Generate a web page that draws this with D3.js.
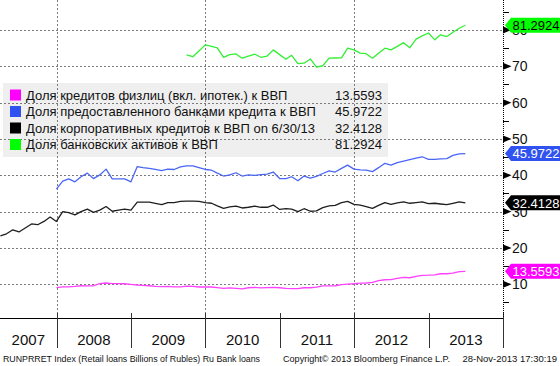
<!DOCTYPE html>
<html>
<head>
<meta charset="utf-8">
<script src="https://cdn.jsdelivr.net/npm/d3@7"></script>
<style>
  html, body { margin: 0; padding: 0; background: #ffffff; }
  svg { display: block; }
  text { font-family: "Liberation Sans", Arial, sans-serif; }
</style>
</head>
<body>
<svg id="chart" width="560" height="366"></svg>
<script>
// ---------------- DATA ----------------
const seriesNames = [
  "Доля кредитов физлиц (вкл. ипотек.) к ВВП",
  "Доля предоставленного банками кредита к ВВП",
  "Доля корпоративных кредитов к ВВП on 6/30/13",
  "Доля банковских активов к ВВП"
];
const lastValues = ["13.5593", "45.9722", "32.4128", "81.2924"];
const seriesColors = ["#ff00ff", "#2f52f0", "#000000", "#00ff00"];
const lineColors = ["#ff40ff", "#4a66f5", "#1e1e1e", "#33ef33"];
const labelTextColors = ["#ffffff", "#ffffff", "#ffffff", "#000000"];

// first month-end date of each series (year, month index 0-11)
const retailStart = [2007, 11];     // 2007-12-31
const bankCreditStart = [2007, 11]; // 2007-12-31
const corporateStart = [2007, 2];   // 2007-03-31
const assetsStart = [2009, 8];      // 2009-09-30

// monthly values, % of GDP
const retailLoans = [
  9.1, 9.3, 9.3, 9.4, 9.6, 9.55, 9.6, 10.2, 10.35, 10.2, 10.2, 10.15,
  9.95, 9.8, 9.7, 9.6, 9.4, 9.35, 9.4, 9.3, 9.3, 9.5, 9.4, 9.25,
  9.25, 9.25, 9.1, 8.85, 9.0, 8.9, 8.75, 9.05, 9.15, 9.0, 9.1, 9.15,
  9.05, 8.9, 8.8, 8.8, 9.05, 9.05, 9.2, 9.55, 9.55, 9.6, 9.9, 10.05,
  10.15, 10.3, 10.35, 10.5, 11.0, 11.25, 11.3, 11.6, 11.9, 11.8, 12.2, 12.45,
  12.5, 12.6, 12.9, 12.9, 13.1, 13.5, 13.5593
];
const bankCredit = [
  36.2, 38.4, 39.0, 38.2, 39.6, 40.6, 39.1, 40.1, 41.7, 39.0, 39.0, 39.0, 38.2, 42.4, 42.1, 41.9, 41.6, 41.3,
  41.7, 41.6, 42.3, 42.6, 42.6, 42.1, 41.6, 41.4, 40.6, 39.8, 40.1, 40.7, 39.8, 40.1, 40.0, 40.2, 40.3, 40.9,
  39.1, 39.1, 39.6, 38.5, 39.8, 39.2, 39.7,
  40.5, 41.2, 40.9, 41.9, 42.8, 41.7, 41.5, 41.4, 41.0, 42.1, 43.3, 42.8, 43.5, 43.9, 44.3, 44.7, 45.1, 44.4,
  44.4, 44.5, 44.6, 45.5, 45.9, 45.9722
];
const corporateLoans = [
  23.3, 23.9, 25.0, 24.4, 25.5, 26.6, 26.4, 27.3, 28.5,
  27.3, 30.0, 29.7, 29.1, 30.0, 30.7, 29.8, 30.4, 31.4, 30.1, 30.4, 30.7, 30.4, 32.6, 32.6, 32.6, 32.3,
  31.9, 32.5, 32.5, 32.8, 32.9, 32.9, 32.8, 32.5, 32.3, 31.6, 30.9, 31.3, 31.5, 31.0, 31.2, 31.5, 31.2, 31.2,
  31.8, 30.6, 30.8, 30.7, 30.0, 30.8, 30.1, 30.2,
  31.1, 31.6, 31.7, 32.5, 32.8, 32.0, 31.8, 31.4, 30.9, 31.7, 32.5, 32.0, 32.4, 32.7, 32.3, 32.5, 32.7, 32.2,
  32.3, 32.1, 31.9, 32.3, 32.7, 32.4128
];
const bankAssets = [
  73.13, 72.63, 74.22, 75.9, 75.5, 75.1, 72.48, 73.22, 73.41, 72.23, 72.83, 73.32, 72.48, 72.83, 74.52, 73.22,
  71.94, 73.03, 70.75, 70.85, 72.03, 69.76, 70.15, 72.23, 72.28, 72.33, 75.0, 74.52, 73.62, 73.47, 72.23, 73.62,
  75.0, 74.52, 75.5, 76.5, 75.1, 77.49, 78.38, 79.17, 77.29, 78.68, 78.18, 79.37, 80.47, 81.2924
];

const yTicks = [10, 20, 30, 40, 50, 60, 70, 80];
const yMinorTicks = [5, 15, 25, 35, 45, 55, 65, 75, 85];
const yearLabels = ["2007", "2008", "2009", "2010", "2011", "2012", "2013"];
const gridYears = [2008, 2010, 2012];
const footerLeft = "RUNPRRET Index (Retail loans Billions of Rubles) Ru Bank loans";
const footerMid = "Copyright\u00A9 2013 Bloomberg Finance L.P.";
const footerRight = "28-Nov-2013 17:30:19";

// ---------------- HELPERS ----------------
function monthEnds(start, n) {
  const out = [];
  for (let i = 0; i < n; i++) out.push(new Date(Date.UTC(start[0], start[1] + i + 1, 0)));
  return out;
}
function toPoints(start, vals) {
  const d = monthEnds(start, vals.length);
  return vals.map((v, i) => ({ date: d[i], value: v }));
}
const series = [
  toPoints(retailStart, retailLoans),
  toPoints(bankCreditStart, bankCredit),
  toPoints(corporateStart, corporateLoans),
  toPoints(assetsStart, bankAssets)
];

// ---------------- LAYOUT ----------------
const plotLeft = 0, plotRight = 503, plotTop = 0, plotBottom = 318;
const svg = d3.select("#chart");

const x = d3.scaleUtc()
  .domain([new Date(Date.UTC(2007, 2, 29)), new Date(Date.UTC(2014, 0, 1))])
  .range([plotLeft, plotRight]);
const y = d3.scaleLinear().domain([0.72, 88.25]).range([plotBottom, plotTop]);

// Legend background (drawn first, grid shows through)
const legend = { x: 3, y: 83, w: 385, h: 74 };
svg.append("rect")
  .attr("x", legend.x).attr("y", legend.y)
  .attr("width", legend.w).attr("height", legend.h)
  .attr("fill", "#efefef");

// Horizontal gridlines
svg.append("g").selectAll("line").data(yTicks).join("line")
  .attr("x1", plotLeft).attr("x2", plotRight)
  .attr("y1", d => Math.round(y(d)) + 0.5).attr("y2", d => Math.round(y(d)) + 0.5)
  .attr("stroke", "#7a7a7a").attr("stroke-width", 1).attr("stroke-dasharray", "2,2");

// Vertical gridlines
svg.append("g").selectAll("line").data(gridYears).join("line")
  .attr("x1", d => Math.round(x(new Date(Date.UTC(d, 0, 1)))) + 0.5)
  .attr("x2", d => Math.round(x(new Date(Date.UTC(d, 0, 1)))) + 0.5)
  .attr("y1", plotTop).attr("y2", plotBottom)
  .attr("stroke", "#7a7a7a").attr("stroke-width", 1).attr("stroke-dasharray", "2,2");

// Series lines
const line = d3.line().x(d => x(d.date)).y(d => y(d.value));
svg.append("g").selectAll("path").data(series).join("path")
  .attr("d", line)
  .attr("fill", "none")
  .attr("stroke", (d, i) => lineColors[i])
  .attr("stroke-width", 1.3)
  .attr("stroke-linejoin", "round");

// Bottom axis line
svg.append("line")
  .attr("x1", plotLeft).attr("x2", plotRight)
  .attr("y1", plotBottom + 0.5).attr("y2", plotBottom + 0.5)
  .attr("stroke", "#000").attr("stroke-width", 1);

// Year separators
const yearBounds = d3.range(2008, 2015).map(yr => new Date(Date.UTC(yr, 0, 1)));
svg.append("g").selectAll("line").data(yearBounds).join("line")
  .attr("x1", d => Math.round(x(d)) + 0.5).attr("x2", d => Math.round(x(d)) + 0.5)
  .attr("y1", plotBottom - 5).attr("y2", 348)
  .attr("stroke", "#333").attr("stroke-width", 1);

// Year labels
const yearG = svg.append("g");
yearLabels.forEach(lbl => {
  const yr = +lbl;
  const a = Math.max(x.range()[0], x(new Date(Date.UTC(yr, 0, 1))));
  const b = Math.min(x.range()[1], x(new Date(Date.UTC(yr + 1, 0, 1))));
  const t = yearG.append("text")
    .attr("y", 345)
    .attr("font-size", 15)
    .attr("fill", "#111")
    .attr("text-anchor", "middle")
    .text(lbl);
  const w = t.node().getComputedTextLength();
  const cx = Math.max((a + b) / 2, a + 5 + w / 2);
  t.attr("x", cx);
});

// Right axis
svg.append("line")
  .attr("x1", plotRight + 0.5).attr("x2", plotRight + 0.5)
  .attr("y1", plotTop).attr("y2", plotBottom)
  .attr("stroke", "#000").attr("stroke-width", 1).attr("stroke-dasharray", "1,1");

svg.append("g").selectAll("line").data(yMinorTicks).join("line")
  .attr("x1", plotRight).attr("x2", plotRight + 6)
  .attr("y1", d => Math.round(y(d)) + 0.5).attr("y2", d => Math.round(y(d)) + 0.5)
  .attr("stroke", "#000").attr("stroke-width", 1);

svg.append("g").selectAll("path").data(yTicks).join("path")
  .attr("d", d => {
    const yy = y(d);
    return `M${plotRight},${yy - 3.5}L${plotRight + 8.5},${yy}L${plotRight},${yy + 3.5}Z`;
  })
  .attr("fill", "#000");

svg.append("g").selectAll("text").data(yTicks).join("text")
  .attr("x", plotRight + 9)
  .attr("y", d => y(d) + 5)
  .attr("font-size", 14)
  .attr("fill", "#111")
  .text(d => d);

// Last-value boxes
const lastG = svg.append("g");
series.forEach((s, i) => {
  const cy = y(s[s.length - 1].value);
  const h = 15;
  lastG.append("path")
    .attr("d", `M505,${cy}L511,${cy - h / 2}L560,${cy - h / 2}L560,${cy + h / 2}L511,${cy + h / 2}Z`)
    .attr("fill", seriesColors[i]);
  lastG.append("text")
    .attr("x", 512.5).attr("y", cy + 4.8)
    .attr("font-size", 13)
    .attr("fill", labelTextColors[i])
    .text(lastValues[i]);
});

// Legend contents
const rowY = [95, 111.5, 128, 144.5];
const legG = svg.append("g");
seriesNames.forEach((name, i) => {
  legG.append("rect")
    .attr("x", 10).attr("y", rowY[i] - 5.5)
    .attr("width", 11).attr("height", 11)
    .attr("fill", seriesColors[i]);
  legG.append("text")
    .attr("x", 26).attr("y", rowY[i] + 4.5)
    .attr("font-size", 13).attr("fill", "#111")
    .text(name);
  legG.append("text")
    .attr("x", 382).attr("y", rowY[i] + 4.5)
    .attr("font-size", 13).attr("fill", "#111")
    .attr("text-anchor", "end")
    .text(lastValues[i]);
});

// Footer
svg.append("text").attr("x", 3).attr("y", 362).attr("font-size", 9.5).attr("fill", "#111")
  .attr("textLength", 257).attr("lengthAdjust", "spacingAndGlyphs").text(footerLeft);
svg.append("text").attr("x", 283).attr("y", 362).attr("font-size", 9.5).attr("fill", "#111")
  .attr("textLength", 167).attr("lengthAdjust", "spacingAndGlyphs").text(footerMid);
svg.append("text").attr("x", 557).attr("y", 362).attr("font-size", 9.5).attr("fill", "#111")
  .attr("text-anchor", "end").text(footerRight);
</script>
</body>
</html>
